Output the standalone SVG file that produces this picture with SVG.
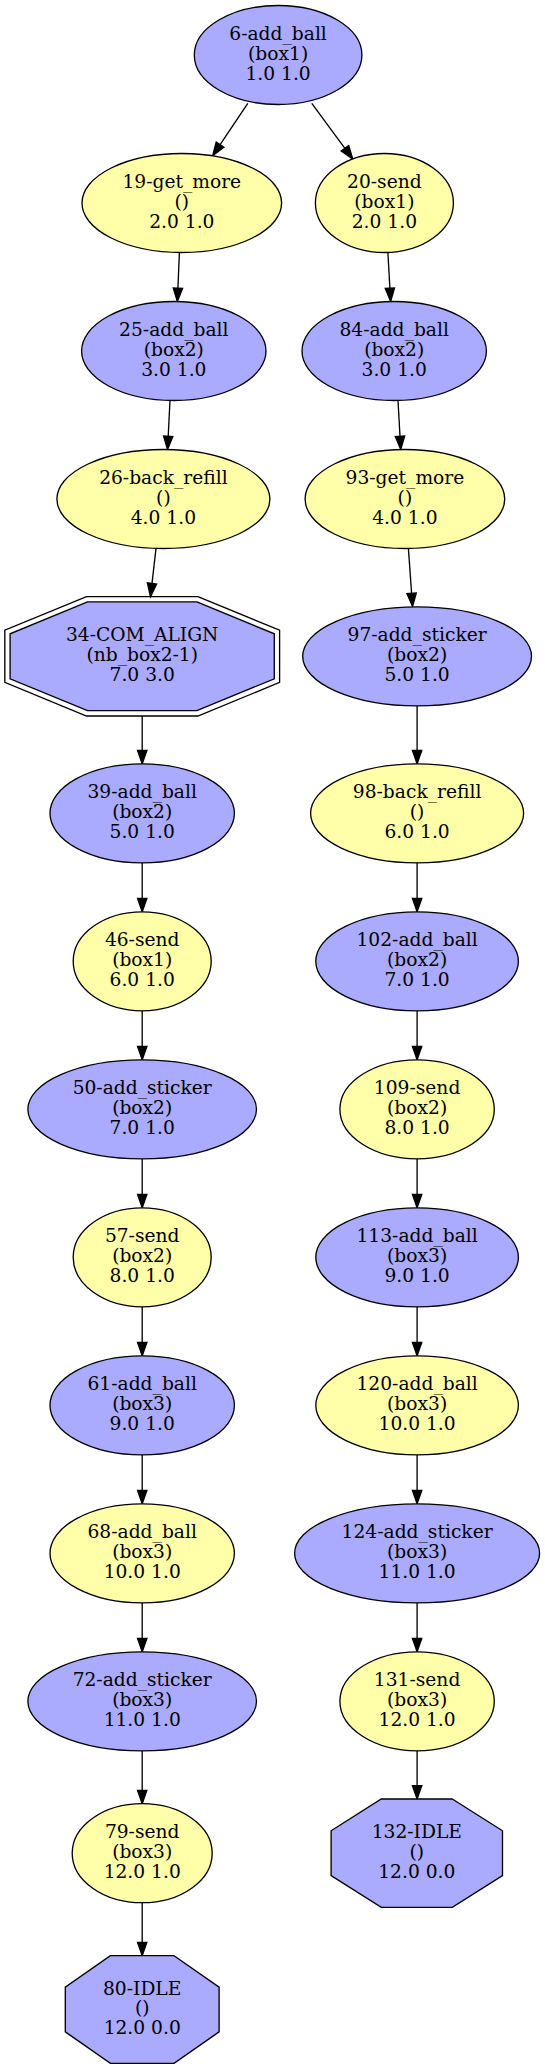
<svg xmlns="http://www.w3.org/2000/svg" width="545" height="2069" viewBox="0 0 545 2069">
<style>
.b{fill:#aaaaff;stroke:#000;stroke-width:1.33}
.y{fill:#ffffaa;stroke:#000;stroke-width:1.33}
.o{fill:none;stroke:#000;stroke-width:1.33}
text{font-family:"DejaVu Serif","Liberation Serif",serif;font-size:18.67px;text-anchor:middle;fill:#000}
.e{fill:none;stroke:#000;stroke-width:1.33;marker-end:url(#arr)}
</style>
<defs>
<marker id="arr" markerUnits="userSpaceOnUse" markerWidth="14" markerHeight="10" refX="0" refY="0" orient="auto" overflow="visible">
<path d="M0,-4.67 L13.33,0 L0,4.67 Z" fill="#000" stroke="#000" stroke-width="1.33"/>
</marker>
</defs>
<rect x="0" y="0" width="545" height="2069" fill="#fff"/>
<g id="edges">
<path class="e" d="M247.8,103.3 L220.1,144.6"/>
<path class="e" d="M311.8,103.3 L344.9,148.3"/>
<path class="e" d="M179.4,252.5 L177.9,288.2"/>
<path class="e" d="M387.9,252.5 L389.9,288.2"/>
<path class="e" d="M170,400.5 L168.2,436.3"/>
<path class="e" d="M398,400.5 L400,436.3"/>
<path class="e" d="M156,548.4 L152,583.4"/>
<path class="e" d="M408.4,548.4 L411.6,593.3"/>
<path class="e" d="M142.2,716 L142.2,750.5"/>
<path class="e" d="M417.1,705.8 L417.1,750.5"/>
<path class="e" d="M142.2,862.8 L142.2,898.5"/>
<path class="e" d="M417.1,862.8 L417.1,898.5"/>
<path class="e" d="M142.2,1010.8 L142.2,1046.5"/>
<path class="e" d="M417.1,1010.8 L417.1,1046.5"/>
<path class="e" d="M142.2,1158.8 L142.2,1194.5"/>
<path class="e" d="M417.1,1158.8 L417.1,1194.5"/>
<path class="e" d="M142.2,1306.8 L142.2,1342.5"/>
<path class="e" d="M417.1,1306.8 L417.1,1342.5"/>
<path class="e" d="M142.2,1454.8 L142.2,1490.5"/>
<path class="e" d="M417.1,1454.8 L417.1,1490.5"/>
<path class="e" d="M142.2,1602.8 L142.2,1638.5"/>
<path class="e" d="M417.1,1602.8 L417.1,1638.5"/>
<path class="e" d="M142.2,1750.8 L142.2,1790.4"/>
<path class="e" d="M417.1,1750.8 L417.1,1785.7"/>
<path class="e" d="M142.2,1902.7 L142.2,1942.4"/>
</g>
<g id="n6"><ellipse class="b" cx="278.1" cy="55" rx="83.8" ry="49.5"/><text x="278.1" y="40.1">6-add_ball</text><text x="278.1" y="59.8">(box1)</text><text x="278.1" y="79.5">1.0 1.0</text></g>
<g id="n19"><ellipse class="y" cx="181.8" cy="203" rx="99.8" ry="49.5"/><text x="181.8" y="188.1">19-get_more</text><text x="181.8" y="207.8">()</text><text x="181.8" y="227.5">2.0 1.0</text></g>
<g id="n20"><ellipse class="y" cx="384.4" cy="203" rx="69" ry="49.5"/><text x="384.4" y="188.1">20-send</text><text x="384.4" y="207.8">(box1)</text><text x="384.4" y="227.5">2.0 1.0</text></g>
<g id="n25"><ellipse class="b" cx="173.8" cy="351" rx="92.2" ry="49.5"/><text x="173.8" y="336.1">25-add_ball</text><text x="173.8" y="355.8">(box2)</text><text x="173.8" y="375.5">3.0 1.0</text></g>
<g id="n84"><ellipse class="b" cx="394.2" cy="351" rx="92.2" ry="49.5"/><text x="394.2" y="336.1">84-add_ball</text><text x="394.2" y="355.8">(box2)</text><text x="394.2" y="375.5">3.0 1.0</text></g>
<g id="n26"><ellipse class="y" cx="163.4" cy="499" rx="106.5" ry="49.5"/><text x="163.4" y="484.1">26-back_refill</text><text x="163.4" y="503.8">()</text><text x="163.4" y="523.5">4.0 1.0</text></g>
<g id="n93"><ellipse class="y" cx="404.9" cy="499" rx="99.8" ry="49.5"/><text x="404.9" y="484.1">93-get_more</text><text x="404.9" y="503.8">()</text><text x="404.9" y="523.5">4.0 1.0</text></g>
<g id="n34"><polygon class="o" points="197.9,596.6 279.6,630.2 279.6,682.4 197.9,716 86.5,716 4.8,682.4 4.8,630.2 86.5,596.6"/><polygon class="b" points="196.9,601.95 274.3,633.8 274.3,678.8 196.9,710.65 87.5,710.65 10.1,678.8 10.1,633.8 87.5,601.95"/><text x="142.2" y="641.4">34-COM_ALIGN</text><text x="142.2" y="661.1">(nb_box2-1)</text><text x="142.2" y="680.8">7.0 3.0</text></g>
<g id="n97"><ellipse class="b" cx="417.1" cy="656.3" rx="114.4" ry="49.5"/><text x="417.1" y="641.4">97-add_sticker</text><text x="417.1" y="661.1">(box2)</text><text x="417.1" y="680.8">5.0 1.0</text></g>
<g id="n39"><ellipse class="b" cx="142.2" cy="813.3" rx="92.2" ry="49.5"/><text x="142.2" y="798.4">39-add_ball</text><text x="142.2" y="818.1">(box2)</text><text x="142.2" y="837.8">5.0 1.0</text></g>
<g id="n98"><ellipse class="y" cx="417.1" cy="813.3" rx="106.5" ry="49.5"/><text x="417.1" y="798.4">98-back_refill</text><text x="417.1" y="818.1">()</text><text x="417.1" y="837.8">6.0 1.0</text></g>
<g id="n46"><ellipse class="y" cx="142.2" cy="961.3" rx="69" ry="49.5"/><text x="142.2" y="946.4">46-send</text><text x="142.2" y="966.1">(box1)</text><text x="142.2" y="985.8">6.0 1.0</text></g>
<g id="n102"><ellipse class="b" cx="417.1" cy="961.3" rx="101.3" ry="49.5"/><text x="417.1" y="946.4">102-add_ball</text><text x="417.1" y="966.1">(box2)</text><text x="417.1" y="985.8">7.0 1.0</text></g>
<g id="n50"><ellipse class="b" cx="142.2" cy="1109.3" rx="114.3" ry="49.5"/><text x="142.2" y="1094.4">50-add_sticker</text><text x="142.2" y="1114.1">(box2)</text><text x="142.2" y="1133.8">7.0 1.0</text></g>
<g id="n109"><ellipse class="y" cx="417.1" cy="1109.3" rx="77.2" ry="49.5"/><text x="417.1" y="1094.4">109-send</text><text x="417.1" y="1114.1">(box2)</text><text x="417.1" y="1133.8">8.0 1.0</text></g>
<g id="n57"><ellipse class="y" cx="142.2" cy="1257.3" rx="69" ry="49.5"/><text x="142.2" y="1242.4">57-send</text><text x="142.2" y="1262.1">(box2)</text><text x="142.2" y="1281.8">8.0 1.0</text></g>
<g id="n113"><ellipse class="b" cx="417.1" cy="1257.3" rx="101.3" ry="49.5"/><text x="417.1" y="1242.4">113-add_ball</text><text x="417.1" y="1262.1">(box3)</text><text x="417.1" y="1281.8">9.0 1.0</text></g>
<g id="n61"><ellipse class="b" cx="142.2" cy="1405.3" rx="92.2" ry="49.5"/><text x="142.2" y="1390.4">61-add_ball</text><text x="142.2" y="1410.1">(box3)</text><text x="142.2" y="1429.8">9.0 1.0</text></g>
<g id="n120"><ellipse class="y" cx="417.1" cy="1405.3" rx="101.3" ry="49.5"/><text x="417.1" y="1390.4">120-add_ball</text><text x="417.1" y="1410.1">(box3)</text><text x="417.1" y="1429.8">10.0 1.0</text></g>
<g id="n68"><ellipse class="y" cx="142.2" cy="1553.3" rx="92.2" ry="49.5"/><text x="142.2" y="1538.4">68-add_ball</text><text x="142.2" y="1558.1">(box3)</text><text x="142.2" y="1577.8">10.0 1.0</text></g>
<g id="n124"><ellipse class="b" cx="417.1" cy="1553.3" rx="122.5" ry="49.5"/><text x="417.1" y="1538.4">124-add_sticker</text><text x="417.1" y="1558.1">(box3)</text><text x="417.1" y="1577.8">11.0 1.0</text></g>
<g id="n72"><ellipse class="b" cx="142.2" cy="1701.3" rx="114.3" ry="49.5"/><text x="142.2" y="1686.4">72-add_sticker</text><text x="142.2" y="1706.1">(box3)</text><text x="142.2" y="1725.8">11.0 1.0</text></g>
<g id="n131"><ellipse class="y" cx="417.1" cy="1701.3" rx="77.2" ry="49.5"/><text x="417.1" y="1686.4">131-send</text><text x="417.1" y="1706.1">(box3)</text><text x="417.1" y="1725.8">12.0 1.0</text></g>
<g id="n79"><ellipse class="y" cx="142.2" cy="1853.2" rx="70" ry="49.5"/><text x="142.2" y="1838.3">79-send</text><text x="142.2" y="1858">(box3)</text><text x="142.2" y="1877.7">12.0 1.0</text></g>
<g id="n132"><polygon class="b" points="452.3,1799 502.5,1830.75 502.5,1875.65 452.3,1907.4 381.3,1907.4 331.1,1875.65 331.1,1830.75 381.3,1799"/><text x="416.8" y="1838.3">132-IDLE</text><text x="416.8" y="1858">()</text><text x="416.8" y="1877.7">12.0 0.0</text></g>
<g id="n80"><polygon class="b" points="174.05,1955.7 219.1,1987.22 219.1,2031.78 174.05,2063.3 110.35,2063.3 65.3,2031.78 65.3,1987.22 110.35,1955.7"/><text x="142.2" y="1994.6">80-IDLE</text><text x="142.2" y="2014.3">()</text><text x="142.2" y="2034">12.0 0.0</text></g>
</svg>
